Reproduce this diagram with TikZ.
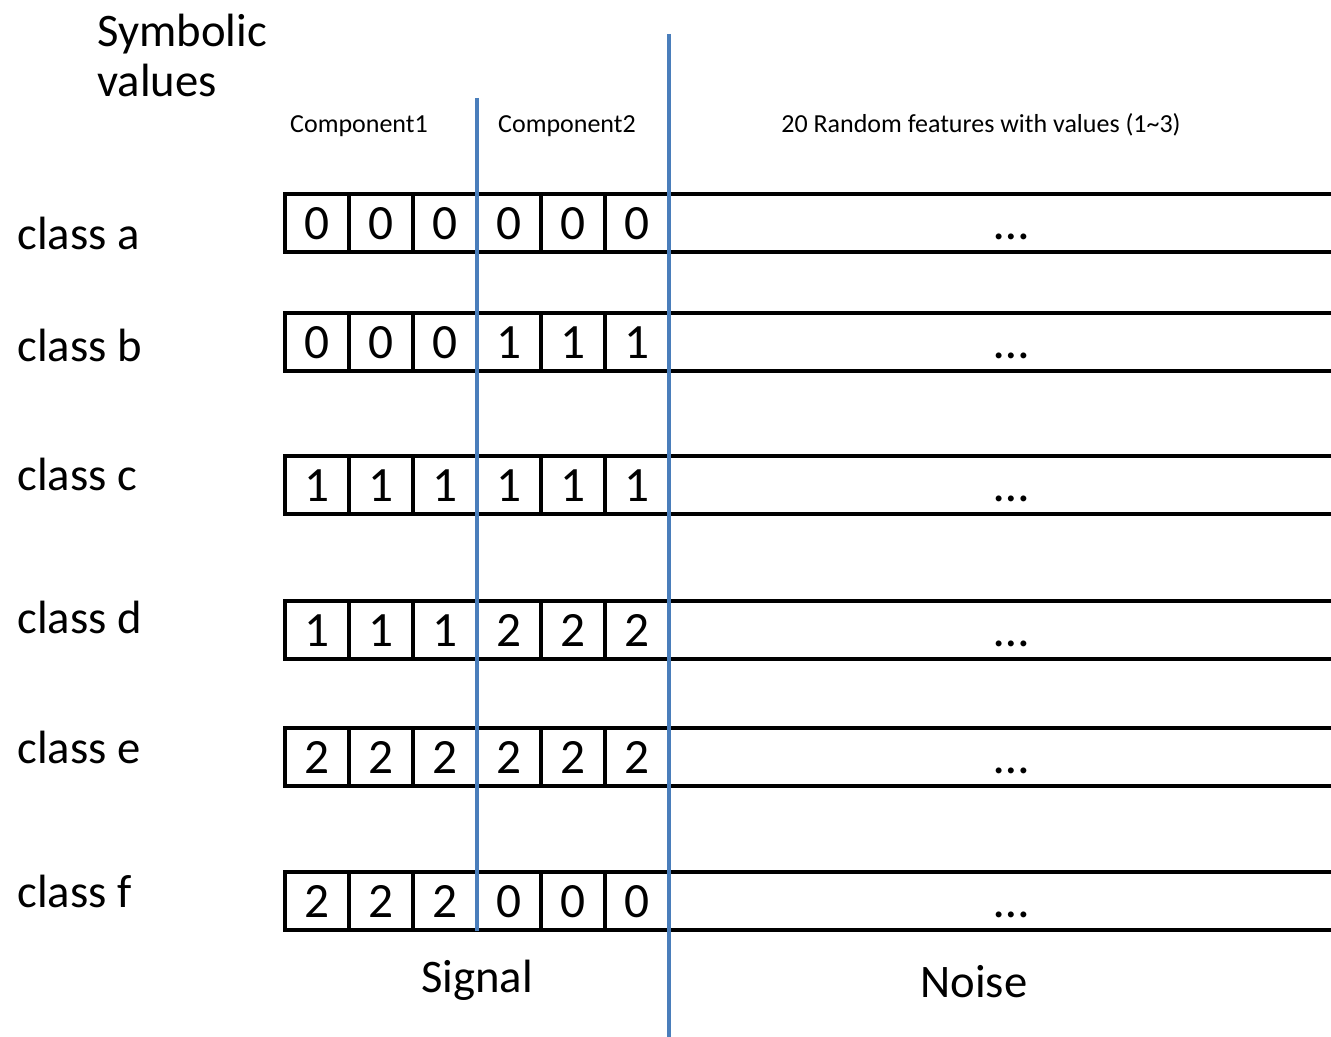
\documentclass[tikz,border=0pt]{standalone}
\usepackage{fontspec}
\setmainfont{Carlito}
\usetikzlibrary{positioning}
\definecolor{divblue}{RGB}{74,126,187}
\newcommand{\bigfont}{\fontsize{35}{42}\selectfont}
\newcommand{\digitfont}{\fontsize{37}{44}\selectfont}
\newcommand{\smallfont}{\fontsize{19.5}{23}\selectfont}
\tikzset{
  biglab/.style   = {font=\bigfont, inner sep=0pt},
  smalllab/.style = {font=\smallfont, inner sep=0pt},
  cell/.style     = {draw, line width=2.4pt, minimum width=48pt, minimum height=43.5pt,
                     inner sep=0pt, outer sep=0pt, text height=25pt, text depth=0pt,
                     font=\digitfont},
  noisebox/.style = {cell, minimum width=514.5pt},
  divline/.style  = {draw=divblue, line width=2.4pt},
}

\begin{document}
\begin{tikzpicture}[x=0.75pt,y=-0.75pt]
  \clip (0,0) rectangle (1331,1037);
  % headings
  \node[biglab, anchor=base west] (sym1) at (97,47) {Symbolic};
  \node[biglab, anchor=base west] (sym2) at (97,97) {values};
  \node[smalllab, anchor=base] (comp1) at (359,133) {Component1};
  \node[smalllab, anchor=base] (comp2) at (567,133) {Component2};
  \node[smalllab, anchor=base] (rand)  at (981,133) {20 Random features with values (1\textasciitilde3)};
  % one row of cells per class
  \foreach \r/\cy/\by/\vals in {a/223/250/{0,0,0,0,0,0}, b/342/362/{0,0,0,1,1,1},
                                c/485/490/{1,1,1,1,1,1}, d/630/633/{1,1,1,2,2,2},
                                e/757/763/{2,2,2,2,2,2}, f/901/907/{2,2,2,0,0,0}} {
    \node[biglab, anchor=base west] (lab\r) at (17,\by) {class \r};
    \foreach \v [count=\i] in \vals {
      \node[cell] (\r\i) at ({253+64*\i},\cy) {\v};
    }
    \node[noisebox, right=0pt of \r6] (noise\r) {…};
  }
  % signal / noise split
  \draw[divline] (477,98) -- (477,931);
  \draw[divline] (669,34) -- (669,1040);
  \node[biglab, anchor=base] (sig) at (477,992) {Signal};
  \node[biglab, anchor=base] (noi) at (974,997) {Noise};
\end{tikzpicture}
\end{document}
